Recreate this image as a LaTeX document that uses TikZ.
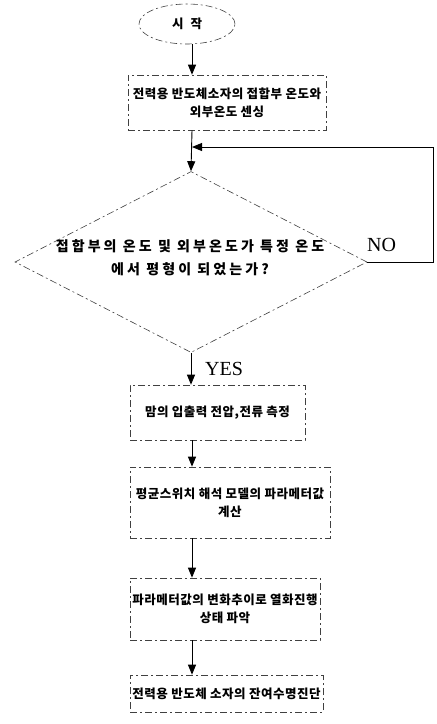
\documentclass[tikz,border=0pt]{standalone}
\usepackage{fontspec}
\setmainfont{Liberation Serif}
\newfontfamily\kr{Noto Sans CJK KR}[LetterSpace=4]
\newfontfamily\krw{Noto Sans CJK KR}[LetterSpace=22]
\usetikzlibrary{arrows.meta,shapes.geometric}
\tikzset{
  outline/.style={draw=black!75, line width=0.6pt, dash pattern=on 7pt off 3pt on 2pt off 3pt},
  stepbox/.style={outline, rectangle, inner sep=0pt, align=center, font=\kr\fontsize{12.5}{18}\selectfont\bfseries},
  arr/.style={draw=black, line width=0.9pt, -{Triangle[length=10pt,width=8pt]}},
  loopline/.style={draw=black, line width=0.9pt},
  lbl/.style={font=\fontsize{20}{22}\selectfont, inner sep=0pt}
}
\begin{document}
\begin{tikzpicture}[x=1pt,y=-1pt]
\useasboundingbox (0,0) rectangle (437,724);
\coordinate (axis) at (192,0);
\node[outline, ellipse, minimum width=96pt, minimum height=40pt, inner sep=0pt,
      font=\kr\fontsize{12.5}{14}\selectfont\bfseries] (start) at (187,24) {시\hspace{7pt}작};
\node[stepbox, minimum width=198pt, minimum height=55pt] (b1) at (227,102.5)
  {전력용 반도체소자의 접합부 온도와\\외부온도 센싱};
\node[outline, diamond, minimum width=352pt, minimum height=181pt, inner sep=0pt] (dec) at (191,262) {};
\node[align=center, font=\krw\fontsize{14}{23}\selectfont\bfseries] (dectext) at (190,258)
  {접합부의 온도 및 외부온도가 특정 온도\\에서 평형이 되었는가?};
\node[stepbox, minimum width=175pt, minimum height=55pt] (b2) at (217.5,412.5)
  {맘의 입출력 전압,전류 측정};
\node[stepbox, minimum width=200pt, minimum height=71pt] (b3) at (230,502.5)
  {평균스위치 해석 모델의 파라메터값\\계산};
\node[stepbox, minimum width=190pt, minimum height=62pt] (b4) at (225,609)
  {파라메터값의 변화추이로 열화진행\\상태 파악};
\node[stepbox, minimum width=193pt, minimum height=37pt] (b5) at (226.5,693.5)
  {전력용 반도체 소자의 잔여수명진단};
\node[lbl, anchor=west] (no) at (367,245) {NO};
\node[lbl, anchor=west] (yes) at (205,369) {YES};
\coordinate (loopR) at (433,262);
\coordinate (loopT) at (433,147);
\draw[arr] (start.south -| axis) -- (b1.north -| axis);
\draw[arr] (b1.south -| axis) -- (dec.north);
\draw[loopline] (dec.east) -- (loopR) -- (loopT);
\draw[arr] (loopT) -- (loopT -| axis);
\draw[arr] (dec.south) -- (b2.north -| dec.south);
\draw[arr] (b2.south -| axis) -- (b3.north -| axis);
\draw[arr] (b3.south -| axis) -- (b4.north -| axis);
\draw[arr] (b4.south -| axis) -- (b5.north -| axis);
\end{tikzpicture}
\end{document}
